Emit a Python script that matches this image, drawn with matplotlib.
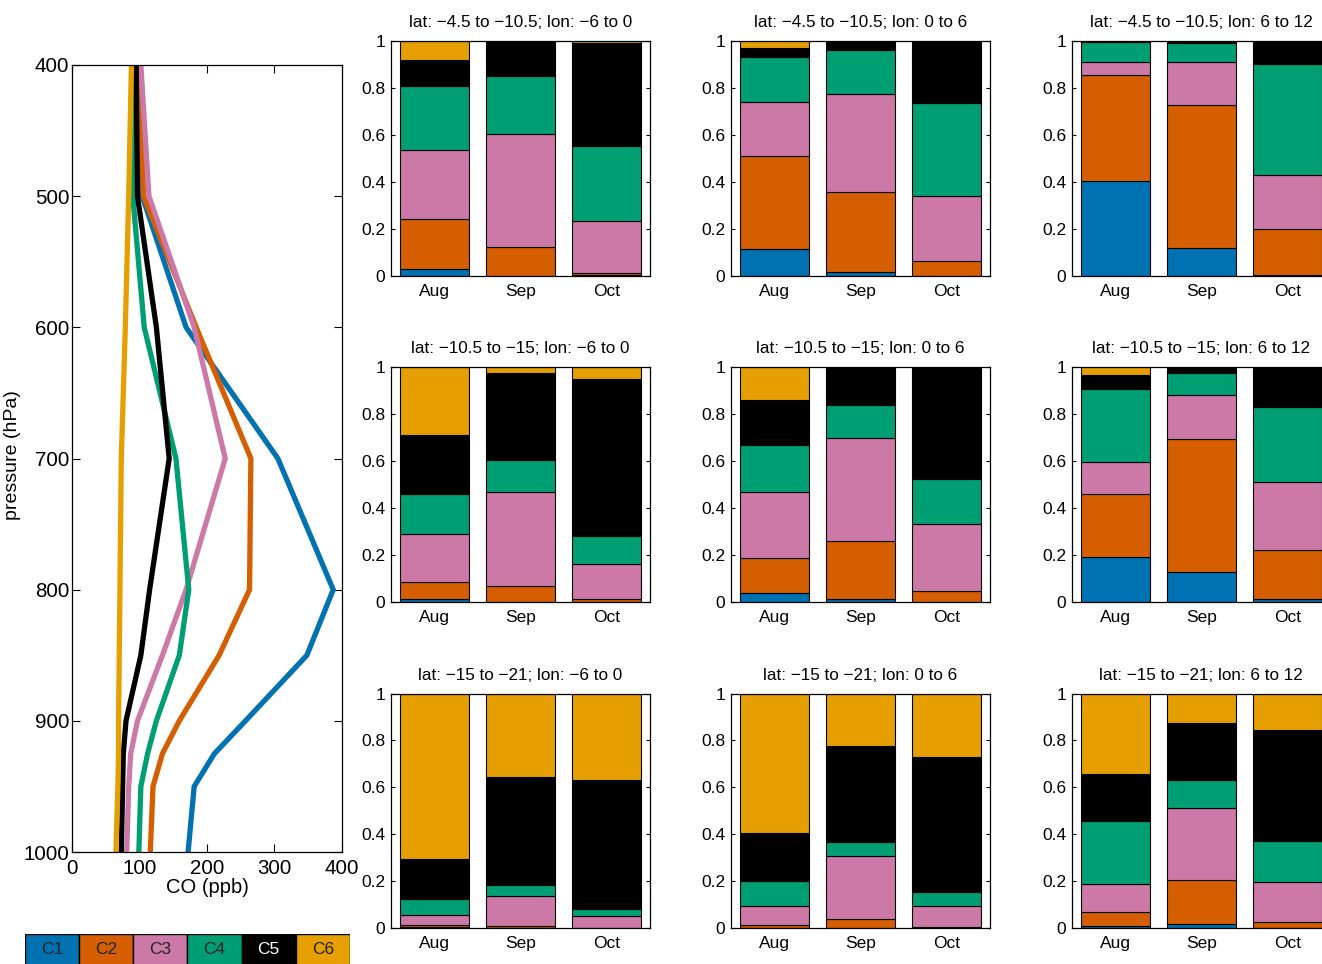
import matplotlib
matplotlib.use("Agg")
import matplotlib.pyplot as plt
from matplotlib.ticker import FuncFormatter

plt.rcParams['font.family'] = ['Liberation Sans', 'DejaVu Sans']

# cluster names and colours
clusters = ['C1', 'C2', 'C3', 'C4', 'C5', 'C6']
colors = ['#0072B2', '#D55E00', '#CC79A7', '#009E73', '#000000', '#E69F00']
months = ['Aug', 'Sep', 'Oct']

# mean CO profiles per cluster (ppb) on pressure levels (hPa)
pressure = [400, 500, 600, 700, 800, 850, 900, 925, 950, 1000]
co_c1 = [100, 104, 169, 305, 387, 348, 257, 211, 181, 172]
co_c2 = [100, 106, 184, 265, 263, 218, 159, 134, 120, 116]
co_c3 = [102, 114, 181, 227, 169, 134, 97, 87, 84, 81]
co_c4 = [95, 90, 107, 154, 173, 159, 125, 112, 102, 99]
co_c5 = [95, 97, 125, 144, 115, 102, 80, 76, 75, 73]
co_c6 = [88, 84, 79, 73, 71, 70, 69, 69, 68, 65]

# cluster fractions per month (rows: Aug, Sep, Oct; cols: C1..C6)
frac_r1_c1 = [[0.026, 0.213, 0.298, 0.271, 0.112, 0.080],
              [0.000, 0.122, 0.482, 0.247, 0.149, 0.000],
              [0.003, 0.008, 0.223, 0.317, 0.440, 0.009]]
frac_r1_c2 = [[0.111, 0.399, 0.230, 0.192, 0.040, 0.028],
              [0.017, 0.341, 0.418, 0.187, 0.037, 0.000],
              [0.000, 0.060, 0.279, 0.398, 0.259, 0.004]]
frac_r1_c3 = [[0.405, 0.450, 0.054, 0.085, 0.006, 0.000],
              [0.119, 0.608, 0.185, 0.081, 0.007, 0.000],
              [0.004, 0.193, 0.232, 0.473, 0.098, 0.000]]
frac_r2_c1 = [[0.009, 0.076, 0.201, 0.172, 0.253, 0.289],
              [0.000, 0.065, 0.404, 0.133, 0.373, 0.025],
              [0.000, 0.009, 0.152, 0.119, 0.669, 0.051]]
frac_r2_c2 = [[0.035, 0.151, 0.279, 0.201, 0.194, 0.140],
              [0.009, 0.249, 0.439, 0.142, 0.157, 0.004],
              [0.000, 0.045, 0.284, 0.192, 0.475, 0.004]]
frac_r2_c3 = [[0.188, 0.270, 0.138, 0.312, 0.057, 0.035],
              [0.125, 0.569, 0.188, 0.091, 0.027, 0.000],
              [0.009, 0.212, 0.289, 0.319, 0.171, 0.000]]
frac_r3_c1 = [[0.003, 0.011, 0.040, 0.070, 0.171, 0.705],
              [0.000, 0.008, 0.128, 0.048, 0.460, 0.356],
              [0.000, 0.002, 0.050, 0.027, 0.552, 0.369]]
frac_r3_c2 = [[0.002, 0.012, 0.078, 0.109, 0.203, 0.596],
              [0.000, 0.040, 0.268, 0.059, 0.407, 0.226],
              [0.000, 0.003, 0.089, 0.062, 0.575, 0.271]]
frac_r3_c3 = [[0.010, 0.058, 0.120, 0.270, 0.197, 0.345],
              [0.017, 0.188, 0.305, 0.123, 0.240, 0.127],
              [0.002, 0.023, 0.173, 0.173, 0.472, 0.157]]

lat_labels = ['\u22124.5 to \u221210.5', '\u221210.5 to \u221215', '\u221215 to \u221221']
lon_labels = ['\u22126 to 0', '0 to 6', '6 to 12']

panels = [[frac_r1_c1, frac_r1_c2, frac_r1_c3],
          [frac_r2_c1, frac_r2_c2, frac_r2_c3],
          [frac_r3_c1, frac_r3_c2, frac_r3_c3]]

W, H = 1322, 964
fig = plt.figure(figsize=(W / 100, H / 100), dpi=100)


def px_axes(left, top, right, bottom):
    return fig.add_axes([left / W, 1 - bottom / H, (right - left) / W, (bottom - top) / H])


# profile panel
ax = px_axes(72, 65, 342, 852)
profiles = [co_c1, co_c2, co_c3, co_c4, co_c5, co_c6]
for prof, c in zip(profiles, colors):
    ax.plot(prof, pressure, color=c, lw=3.8, solid_joinstyle='miter')
ax.set_xlim(0, 400)
ax.set_ylim(1000, 400)
ax.set_xticks([0, 100, 200, 300, 400])
ax.set_yticks([400, 500, 600, 700, 800, 900, 1000])
ax.tick_params(direction='in', top=True, right=True, length=6, width=0.8,
               labelsize=14.8, pad=2)
ax.tick_params(axis='x', pad=5)
ax.set_xlabel('CO (ppb)', fontsize=14.5, labelpad=0)
ax.set_ylabel('pressure (hPa)', fontsize=14)
ax.yaxis.set_label_coords(-0.19, 0.505)
for s in ax.spines.values():
    s.set_linewidth(0.9)

# legend strip
lax = px_axes(25, 934, 350, 972)
lax.bar(range(6), [1] * 6, width=1, color=colors, edgecolor='black', linewidth=1)
for i, name in enumerate(clusters):
    lax.text(i, 0.6, name, ha='center', va='center', fontsize=12.5,
             color='white' if name == 'C5' else '#222222')
lax.set_xlim(-0.5, 5.5)
lax.set_ylim(0, 1)
lax.axis('off')

# bar panels
lefts = [391, 731, 1072]
tops = [41, 367, 693.5]
pw, ph = 258.5, 234.5
fmt = FuncFormatter(lambda v, p: '0' if v == 0 else ('1' if v == 1 else f'{v:.1f}'))
for r in range(3):
    for c in range(3):
        bx = px_axes(lefts[c], tops[r], lefts[c] + pw, tops[r] + ph)
        data = panels[r][c]
        bottom = [0.0, 0.0, 0.0]
        for k in range(6):
            vals = [data[m][k] for m in range(3)]
            bx.bar([1, 2, 3], vals, width=0.8, bottom=bottom, color=colors[k],
                   edgecolor='black', linewidth=0.8)
            bottom = [b + v for b, v in zip(bottom, vals)]
        bx.set_xlim(0.5, 3.5)
        bx.set_ylim(0, 1)
        bx.set_xticks([1, 2, 3])
        bx.set_xticklabels(months)
        bx.set_yticks([0, 0.2, 0.4, 0.6, 0.8, 1])
        bx.yaxis.set_major_formatter(fmt)
        bx.tick_params(direction='in', right=True, length=3, width=0.8,
                       labelsize=12.5, pad=4)
        bx.tick_params(axis='x', length=0, pad=6)
        for s in bx.spines.values():
            s.set_linewidth(0.9)
        bx.set_title(f'lat: {lat_labels[r]}; lon: {lon_labels[c]}', fontsize=12.3, pad=10)

fig.savefig('out.png', dpi=100)
